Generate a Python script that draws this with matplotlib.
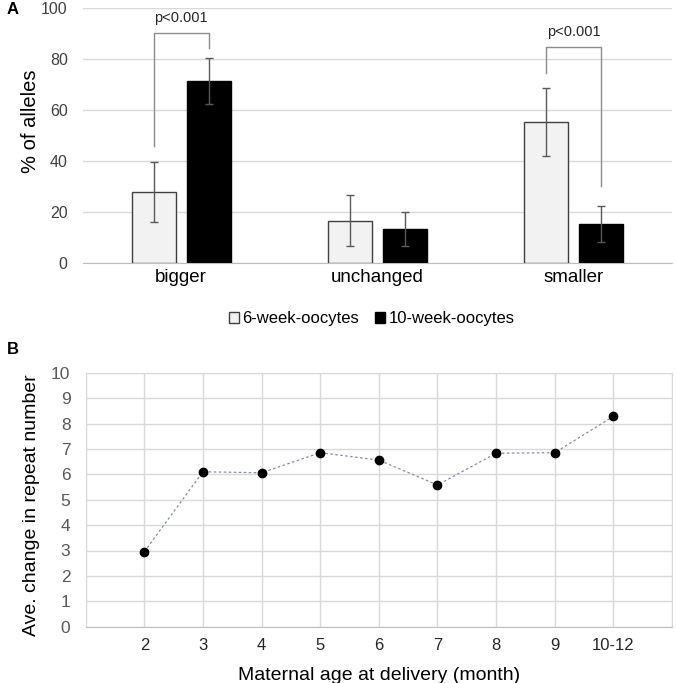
import matplotlib
matplotlib.use("Agg")
import matplotlib.pyplot as plt
import numpy as np

plt.rcParams['font.family'] = ['Liberation Sans', 'DejaVu Sans']

# panel A data
categories = ['bigger', 'unchanged', 'smaller']
week6 = [27.7, 16.6, 55.4]
week6_err = [11.8, 9.9, 13.4]
week10 = [71.3, 13.4, 15.4]
week10_err = [9.1, 6.7, 7.1]

# significance brackets: (category, left y, right y, top y)
brackets = [(0, 46, 84.4, 90.2), (2, 74.6, 30.2, 84.8)]

# panel B data
ages = ['2', '3', '4', '5', '6', '7', '8', '9', '10-12']
change = [2.95, 6.10, 6.06, 6.85, 6.56, 5.58, 6.83, 6.85, 8.28]

W, H = 676, 683
fig = plt.figure(figsize=(W / 100, H / 100), dpi=100)

grid_c = '#d9d9d9'
tick_c = '#404040'

# ---------------- panel A ----------------
axA = fig.add_axes([83 / W, 1 - 263 / H, 589 / W, 255 / H])
x = np.arange(len(categories))
bw = 0.225
off = 0.14
axA.bar(x - off, week6, bw, color='#f2f2f2', edgecolor='#404040', linewidth=1,
        label='6-week-oocytes', zorder=3)
axA.bar(x + off, week10, bw, color='black', edgecolor='black', linewidth=1,
        label='10-week-oocytes', zorder=3)
axA.errorbar(x - off, week6, yerr=week6_err, fmt='none', ecolor='#595959',
             elinewidth=1, capsize=3, capthick=1, zorder=4)
axA.errorbar(x + off, week10, yerr=week10_err, fmt='none', ecolor='#595959',
             elinewidth=1, capsize=3, capthick=1, zorder=4)

for ci, yl, yr, yt in brackets:
    axA.plot([ci - off, ci - off, ci + off, ci + off], [yl, yt, yt, yr],
             color='#8c8c8c', lw=1, zorder=5)
    axA.text(ci, yt + 3, 'p<0.001', ha='center', va='bottom', fontsize=10.5,
             color='#262626')

axA.set_xlim(-0.5, 2.5)
axA.set_ylim(0, 100)
axA.set_yticks(range(0, 101, 20))
axA.set_xticks(x)
axA.set_xticklabels(categories, fontsize=13.5)
axA.tick_params(axis='y', labelsize=11.5, colors=tick_c, length=0, pad=11)
axA.tick_params(axis='x', length=0, pad=4)
axA.yaxis.grid(True, color=grid_c, lw=1, zorder=0)
axA.set_axisbelow(True)
for s in ['top', 'right', 'left']:
    axA.spines[s].set_visible(False)
axA.spines['bottom'].set_color('#bfbfbf')
axA.set_ylabel('% of alleles', fontsize=14.5)
axA.yaxis.set_label_coords(-0.073, 0.555)
axA.legend(loc='upper center', bbox_to_anchor=(0.49, -0.13), ncol=2, frameon=False,
           fontsize=12, handlelength=0.6, handleheight=0.6, handletextpad=0.2,
           columnspacing=1.0)

fig.text(7 / W, 1 - 10 / H, 'A', fontsize=12, fontweight='bold', va='center')

# ---------------- panel B ----------------
axB = fig.add_axes([85.7 / W, 1 - 626.7 / H, 586.3 / W, 254 / H])
xb = np.arange(len(ages))
axB.plot(xb, change, ls=(0, (2, 2)), color='#7f8ca8', lw=0.9, zorder=3)
axB.plot(xb, change, 'o', color='black', ms=6, zorder=4)
axB.set_xlim(-1, len(ages))
axB.set_ylim(0, 10)
axB.set_yticks(range(0, 11))
axB.set_xticks(xb)
axB.set_xticklabels(ages)
axB.set_xticks(np.arange(-1, len(ages) + 1), minor=True)
axB.grid(True, which='major', color=grid_c, lw=1, zorder=0)
axB.xaxis.grid(True, which='minor', color=grid_c, lw=1, zorder=0)
axB.set_axisbelow(True)
for s in axB.spines.values():
    s.set_color(grid_c)
axB.spines['bottom'].set_color('#bfbfbf')
axB.tick_params(axis='y', labelsize=12.5, colors='#595959', length=0, pad=11)
axB.tick_params(axis='x', labelsize=12, colors='#262626', length=0, pad=8)
axB.tick_params(which='minor', length=0)
axB.set_ylabel('Ave. change in repeat number', fontsize=14)
axB.yaxis.set_label_coords(-0.078, 0.48)
axB.set_xlabel('Maternal age at delivery (month)', fontsize=14, labelpad=10)

fig.text(7 / W, 1 - 350 / H, 'B', fontsize=12, fontweight='bold', va='center')

fig.savefig('out.png', dpi=100)
